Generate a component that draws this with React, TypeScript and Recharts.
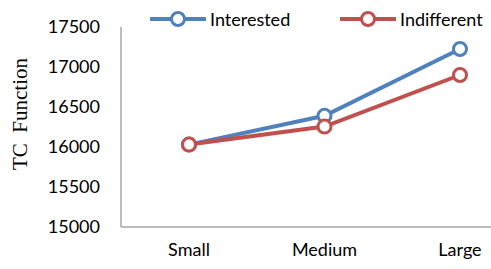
import * as React from 'react';
import { Line, LineChart, XAxis, YAxis } from 'recharts';

const categories = ['Small', 'Medium', 'Large'];
const interested = [16030, 16390, 17225];
const indifferent = [16030, 16255, 16900];
const yTicks = [15000, 15500, 16000, 16500, 17000, 17500];

const BLUE = '#4F81BD';
const RED = '#C0504D';
const FONT = 'Lato, "Open Sans", sans-serif';

const data = categories.map((name, i) => ({
  name,
  interested: interested[i],
  indifferent: indifferent[i],
}));

function LegendItem({ color, label, left }: { color: string; label: string; left: number }) {
  return (
    <div style={{ position: 'absolute', left, top: 6, display: 'flex', alignItems: 'center' }}>
      <svg width={56} height={26}>
        <line x1={1} y1={13} x2={55} y2={13} stroke={color} strokeWidth={4} strokeLinecap="round" />
        <circle cx={28} cy={13} r={6.5} fill="#fff" stroke={color} strokeWidth={3} />
      </svg>
      <span style={{ marginLeft: 4, fontFamily: FONT, fontSize: 18, color: '#000', lineHeight: '26px' }}>
        {label}
      </span>
    </div>
  );
}

export default function App() {
  return (
    <div
      style={{
        position: 'absolute',
        left: 0,
        top: 0,
        width: 491,
        height: 269,
        overflow: 'hidden',
        background: '#fff',
      }}
    >
      <LineChart width={528} height={269} data={data} margin={{ top: 27, right: 0, bottom: 2, left: 0 }}>
        <XAxis
          dataKey="name"
          height={40}
          padding={{ left: 68, right: 68 }}
          axisLine={{ stroke: '#A6A6A6', strokeWidth: 1.5 }}
          tickLine={false}
          tickSize={0}
          tickMargin={16}
          tick={{ fill: '#000', fontSize: 18, fontFamily: FONT }}
        />
        <YAxis
          width={121}
          domain={[15000, 17500]}
          ticks={yTicks}
          axisLine={{ stroke: '#A6A6A6', strokeWidth: 1.5 }}
          tickLine={false}
          tickSize={0}
          tickMargin={21}
          tick={{ fill: '#000', fontSize: 18, fontFamily: FONT }}
          label={{
            content: () => (
              <text
                transform="translate(20,114) rotate(-90)"
                textAnchor="middle"
                dominantBaseline="central"
                style={{
                  fontFamily: '"Liberation Serif", "Times New Roman", serif',
                  fontSize: 21,
                  fill: '#000',
                  whiteSpace: 'pre',
                }}
              >
                {'TC  Function'}
              </text>
            ),
          }}
        />
        <Line
          dataKey="interested"
          stroke={BLUE}
          strokeWidth={4}
          dot={{ r: 6.5, fill: '#fff', stroke: BLUE, strokeWidth: 3 }}
          isAnimationActive={false}
        />
        <Line
          dataKey="indifferent"
          stroke={RED}
          strokeWidth={4}
          dot={{ r: 6.5, fill: '#fff', stroke: RED, strokeWidth: 3 }}
          isAnimationActive={false}
        />
      </LineChart>
      <LegendItem color={BLUE} label="Interested" left={150} />
      <LegendItem color={RED} label="Indifferent" left={340} />
    </div>
  );
}
